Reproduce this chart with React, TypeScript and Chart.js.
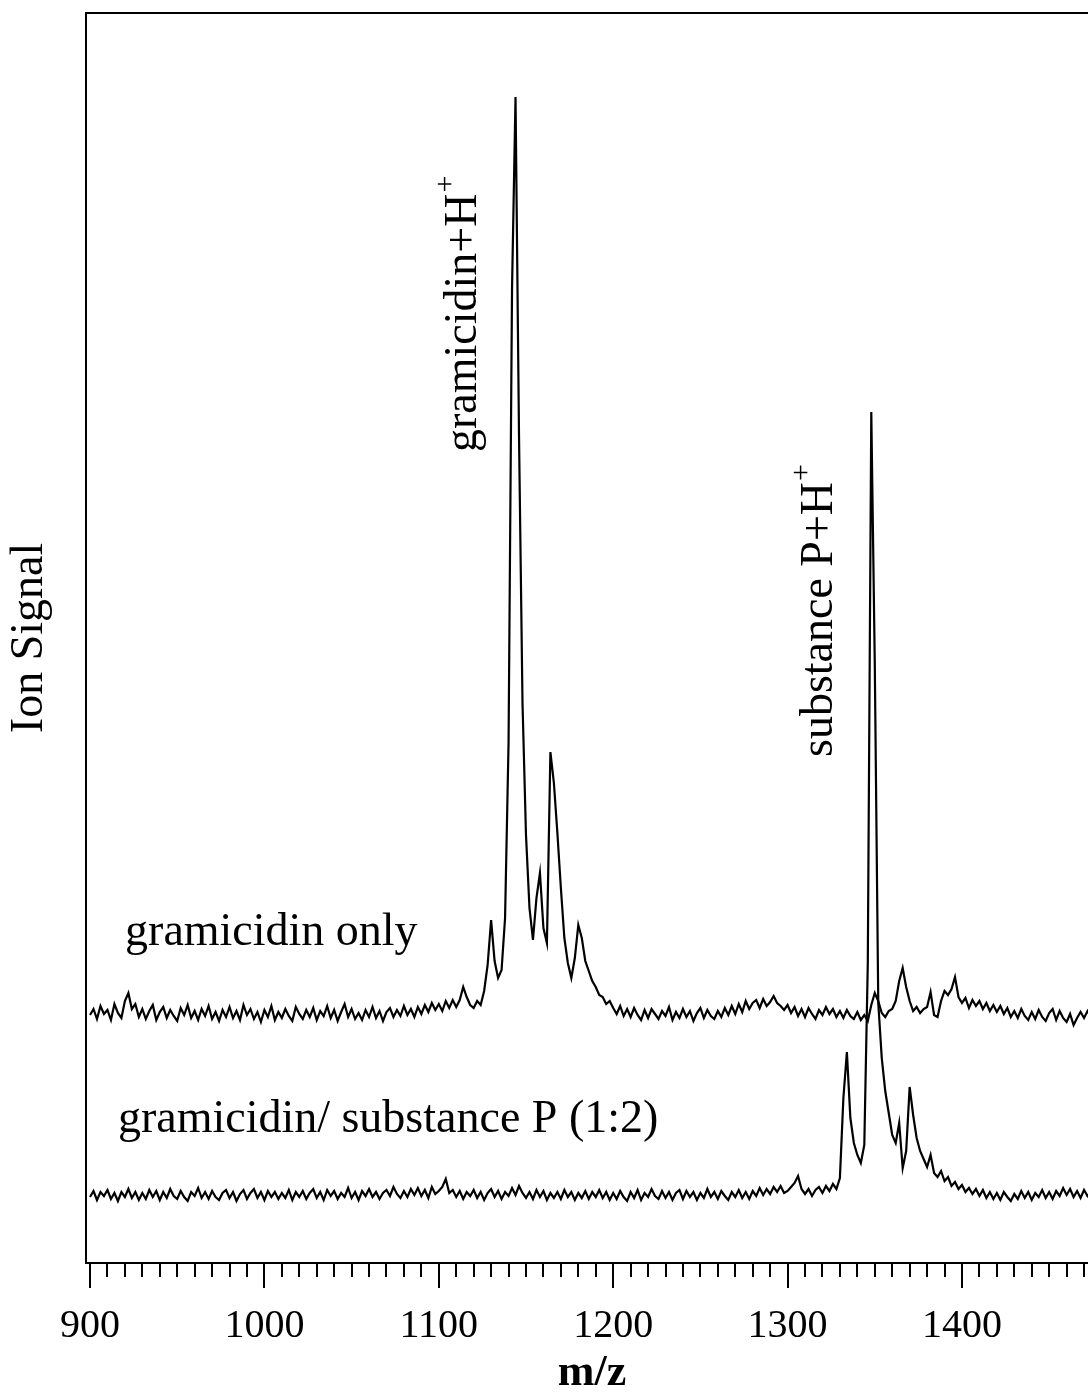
import React, { useEffect, useRef } from "react";
import { Chart, registerables } from "chart.js";

Chart.register(...registerables);

// m/z grid of the recorded spectra (start, step) and axis tick labels
const MZ_START = 900;
const MZ_STEP = 2;
const xTickLabels = [900, 1000, 1100, 1200, 1300, 1400];
const minorTickStep = 10;

// Ion signal (arbitrary units), trace "gramicidin only", one value per 2 m/z from 900
const gramicidinOnly = [
  248, 254, 244, 257, 249,
  253, 243, 259, 250, 245,
  262, 270, 254, 259, 246,
  254, 244, 252, 258, 243,
  251, 256, 245, 253, 247,
  242, 255, 248, 258, 245,
  252, 243, 254, 247, 257,
  244, 251, 242, 253, 246,
  256, 245, 252, 243, 258,
  248, 254, 244, 251, 241,
  253, 246, 257, 243, 251,
  245, 254, 247, 242, 256,
  249, 244, 253, 246, 255,
  243, 252, 247, 257, 245,
  253, 242, 251, 259, 246,
  254, 244, 250, 243, 253,
  246, 256, 245, 252, 242,
  251, 255, 246, 253, 247,
  257, 248, 254, 246, 256,
  249, 258, 251, 260, 253,
  259, 252, 262, 255, 263,
  256, 263, 276, 266, 258,
  255, 262, 258, 272, 298,
  343, 302, 285, 293, 345,
  520, 975, 1166, 827, 560,
  428, 355, 323, 365, 390,
  335, 320, 511, 480, 430,
  375, 325, 300, 285, 305,
  338, 325, 302, 292, 282,
  276, 268, 266, 259, 262,
  255, 249, 257, 247, 254,
  246, 255, 248, 243, 253,
  245, 254, 249, 244, 252,
  247, 256, 243, 251, 245,
  254, 246, 252, 242, 250,
  255, 245, 253, 247, 244,
  252, 246, 255, 248, 257,
  249, 259, 251, 262, 254,
  260, 263, 255, 264, 257,
  261, 267, 260, 257, 253,
  258, 250, 256, 247, 254,
  246, 255, 249, 244, 253,
  248, 256, 249, 254, 246,
  252, 245, 253, 247, 244,
  251, 243, 248, 242, 258,
  270, 262, 250, 246, 252,
  254, 262, 282, 295, 276,
  262, 252, 256, 250, 254,
  256, 271, 248, 246, 262,
  272, 268, 274, 286, 266,
  260, 265, 255, 263, 257,
  262, 254, 260, 252, 258,
  251, 257, 249, 255, 246,
  252, 245, 254, 247, 243,
  251, 244, 253, 246, 242,
  250, 254, 243, 252, 245,
  241, 249, 238, 245, 251,
  245, 252, 246, 254, 247,
];

// Ion signal, trace "gramicidin/ substance P (1:2)"
const gramicidinSubstanceP = [
  66, 72, 63, 71, 67,
  73, 64, 70, 62, 71,
  66, 74, 65, 71, 63,
  70, 64, 73, 66, 72,
  63, 71, 65, 74, 67,
  64, 72, 66, 62, 71,
  67, 75, 65, 71, 64,
  72, 66, 63, 70, 73,
  65, 71, 62, 69, 73,
  64, 70, 74, 65, 71,
  63, 72, 66, 71, 64,
  70, 65, 73, 63, 71,
  66, 72, 64, 70, 74,
  65, 71, 63, 73, 67,
  72, 64, 70, 66, 75,
  65, 71, 63, 72, 67,
  74, 66, 71, 64, 70,
  73, 67, 76, 69, 65,
  72, 66, 74, 68, 75,
  67, 73, 65, 76, 69,
  72, 76, 84, 70, 73,
  66, 72, 64, 71, 67,
  73, 65, 71, 63, 70,
  74, 66, 72, 64, 71,
  67, 75, 68, 77, 70,
  65, 71, 64, 73, 66,
  72, 63, 70, 65, 71,
  64, 73, 66, 71, 63,
  70, 65, 72, 64, 71,
  66, 73, 65, 71, 63,
  70, 64, 72, 66, 62,
  71, 65, 73, 63, 70,
  66, 74, 67, 64, 72,
  65, 71, 63, 70, 73,
  64, 72, 66, 71, 63,
  70, 65, 74, 66, 71,
  64, 72, 67, 63, 71,
  66, 73, 65, 71, 64,
  72, 67, 75, 68, 74,
  69, 76, 71, 77, 70,
  72, 76, 80, 87, 74,
  69, 74, 67, 73, 76,
  70, 77, 72, 79, 74,
  85, 165, 211, 145, 120,
  108, 100, 118, 300, 851,
  600, 260, 205, 172, 150,
  128, 120, 140, 95, 112,
  176, 148, 125, 112, 104,
  96, 108, 90, 86, 92,
  82, 86, 77, 81, 74,
  78, 71, 75, 69, 74,
  67, 73, 65, 71, 64,
  70, 63, 71, 66, 62,
  69, 64, 72, 65, 71,
  63, 70, 66, 73, 65,
  71, 64, 72, 67, 75,
  68, 74, 66, 72, 65,
  73, 67, 71, 64, 70,
];

const FONT = '"Liberation Serif", "Times New Roman", serif';

const toPoints = (values: number[]) =>
  values.map((v, i) => ({ x: MZ_START + i * MZ_STEP, y: v }));

const annotationPlugin = {
  id: "spectrumAnnotations",
  afterDatasetsDraw(chart: any) {
    const { ctx, scales } = chart;
    const x = scales.x;
    const y = scales.y;
    ctx.save();
    ctx.fillStyle = "#000";
    ctx.textBaseline = "alphabetic";
    ctx.textAlign = "left";
    ctx.font = `46px ${FONT}`;
    ctx.fillText("gramicidin only", x.getPixelForValue(920.1), y.getPixelForValue(318));
    ctx.fillText("gramicidin/ substance P (1:2)", x.getPixelForValue(916.0), y.getPixelForValue(131));

    const rotated = (text: string, mz: number, val: number) => {
      ctx.save();
      ctx.translate(x.getPixelForValue(mz), y.getPixelForValue(val));
      ctx.rotate(-Math.PI / 2);
      ctx.font = `46px ${FONT}`;
      ctx.fillText(text, 0, 0);
      const w = ctx.measureText(text).width;
      ctx.font = `30px ${FONT}`;
      ctx.fillText("+", w + 1, -22);
      ctx.restore();
    };
    rotated("gramicidin+H", 1121.3, 811);
    rotated("substance P+H", 1325.5, 506);
    ctx.restore();
  },
};

const framePlugin = {
  id: "frameAndTicks",
  afterDraw(chart: any) {
    const { ctx, chartArea } = chart;
    const x = chart.scales.x;
    ctx.save();
    ctx.strokeStyle = "#000";
    ctx.lineWidth = 2;
    // top frame line
    ctx.beginPath();
    ctx.moveTo(chartArea.left - 1, chartArea.top);
    ctx.lineTo(chart.width, chartArea.top);
    ctx.stroke();
    // major and minor tick marks
    const first = xTickLabels[0];
    for (let v = first; v <= x.max; v += minorTickStep) {
      const px = Math.round(x.getPixelForValue(v));
      const major = v % 100 === 0;
      const len = major ? 25 : 14;
      ctx.beginPath();
      ctx.moveTo(px, chartArea.bottom);
      ctx.lineTo(px, chartArea.bottom + len);
      ctx.stroke();
    }
    ctx.restore();
  },
};

export default function App() {
  const canvasRef = useRef<HTMLCanvasElement | null>(null);

  useEffect(() => {
    const canvas = canvasRef.current;
    if (!canvas) return;
    const chart = new Chart(canvas, {
      type: "line",
      data: {
        datasets: [
          {
            label: "gramicidin only",
            data: toPoints(gramicidinOnly),
            borderColor: "#000",
            borderWidth: 2.2,
            pointRadius: 0,
            tension: 0,
          },
          {
            label: "gramicidin/ substance P (1:2)",
            data: toPoints(gramicidinSubstanceP),
            borderColor: "#000",
            borderWidth: 2.2,
            pointRadius: 0,
            tension: 0,
          },
        ],
      },
      options: {
        responsive: false,
        animation: false,
        devicePixelRatio: 1,
        layout: { padding: { top: 13, right: 2, left: 0, bottom: 0 } },
        plugins: {
          legend: { display: false },
          tooltip: { enabled: false },
        },
        scales: {
          x: {
            type: "linear",
            min: 897.7,
            max: 1478,
            afterFit: (s: any) => {
              s.height = 133;
            },
            grid: { display: false },
            border: { display: true, color: "#000", width: 2 },
            ticks: {
              stepSize: 100,
              includeBounds: false,
              autoSkip: false,
              maxRotation: 0,
              padding: 31,
              color: "#000",
              font: { family: FONT, size: 40 },
              callback: (v: any) => String(v),
            },
            title: {
              display: true,
              text: "m/z",
              color: "#000",
              font: { family: FONT, size: 44, weight: "bold", lineHeight: 1 },
              padding: 0,
            },
          },
          y: {
            type: "linear",
            min: 0,
            max: 1250,
            afterFit: (s: any) => {
              s.width = 86;
            },
            grid: { display: false },
            ticks: { display: false },
            border: { display: true, color: "#000", width: 2 },
            title: {
              display: true,
              text: "Ion Signal",
              color: "#000",
              font: { family: FONT, size: 46 },
              padding: { top: 2, bottom: 0 },
            },
          },
        },
      } as any,
      plugins: [annotationPlugin, framePlugin],
    });
    return () => chart.destroy();
  }, []);

  return (
    <div
      style={{
        position: "absolute",
        left: 0,
        top: 0,
        width: 1088,
        height: 1396,
        overflow: "hidden",
        background: "#fff",
      }}
    >
      <canvas
        ref={canvasRef}
        width={1100}
        height={1396}
        style={{ display: "block", width: 1100, height: 1396 }}
      />
    </div>
  );
}
